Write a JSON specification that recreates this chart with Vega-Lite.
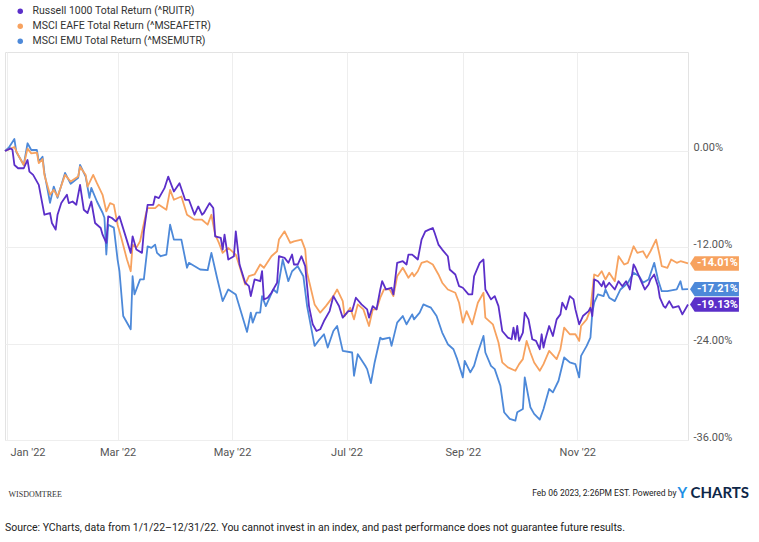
{
  "$schema": "https://vega.github.io/schema/vega-lite/v6.json",
  "width": 683,
  "height": 388,
  "autosize": {"type": "none"},
  "padding": {"left": 5, "top": 52, "right": 71, "bottom": 102},
  "background": "white",
  "config": {
    "view": {"stroke": "#e3e3e3"},
    "font": "Roboto",
    "axis": {"labelFont": "Roboto"}
  },
  "title": {
    "text": "Source: YCharts, data from 1/1/22\u201312/31/22. You cannot invest in an index, and past performance does not guarantee future results.",
    "orient": "bottom",
    "anchor": "start",
    "frame": "group",
    "offset": 23,
    "font": "Roboto",
    "fontSize": 10.5,
    "fontWeight": "normal",
    "color": "#222222"
  },
  "data": {
    "values": [
      {"series":"MSEMUTR","date":"2021-12-31","value":0},
      {"series":"MSEMUTR","date":"2022-01-02","value":0.41},
      {"series":"MSEMUTR","date":"2022-01-05","value":1.49},
      {"series":"MSEMUTR","date":"2022-01-06","value":-0.09},
      {"series":"MSEMUTR","date":"2022-01-10","value":-1.74},
      {"series":"MSEMUTR","date":"2022-01-12","value":0.96},
      {"series":"MSEMUTR","date":"2022-01-14","value":0.12},
      {"series":"MSEMUTR","date":"2022-01-17","value":0.12},
      {"series":"MSEMUTR","date":"2022-01-18","value":-1.33},
      {"series":"MSEMUTR","date":"2022-01-20","value":-0.71},
      {"series":"MSEMUTR","date":"2022-01-21","value":-2.73},
      {"series":"MSEMUTR","date":"2022-01-24","value":-6.45},
      {"series":"MSEMUTR","date":"2022-01-26","value":-4.43},
      {"series":"MSEMUTR","date":"2022-01-28","value":-5.83},
      {"series":"MSEMUTR","date":"2022-02-01","value":-2.73},
      {"series":"MSEMUTR","date":"2022-02-04","value":-4.09},
      {"series":"MSEMUTR","date":"2022-02-08","value":-3.35},
      {"series":"MSEMUTR","date":"2022-02-09","value":-1.74},
      {"series":"MSEMUTR","date":"2022-02-12","value":-3.19},
      {"series":"MSEMUTR","date":"2022-02-14","value":-5.83},
      {"series":"MSEMUTR","date":"2022-02-15","value":-4.59},
      {"series":"MSEMUTR","date":"2022-02-18","value":-6.29},
      {"series":"MSEMUTR","date":"2022-02-21","value":-7.69},
      {"series":"MSEMUTR","date":"2022-02-22","value":-8.31},
      {"series":"MSEMUTR","date":"2022-02-23","value":-12.90},
      {"series":"MSEMUTR","date":"2022-02-24","value":-9.18},
      {"series":"MSEMUTR","date":"2022-02-27","value":-9.55},
      {"series":"MSEMUTR","date":"2022-03-01","value":-13.52},
      {"series":"MSEMUTR","date":"2022-03-02","value":-14.98},
      {"series":"MSEMUTR","date":"2022-03-04","value":-20.56},
      {"series":"MSEMUTR","date":"2022-03-08","value":-22.21},
      {"series":"MSEMUTR","date":"2022-03-09","value":-15.60},
      {"series":"MSEMUTR","date":"2022-03-10","value":-17.87},
      {"series":"MSEMUTR","date":"2022-03-13","value":-16.00},
      {"series":"MSEMUTR","date":"2022-03-15","value":-16.00},
      {"series":"MSEMUTR","date":"2022-03-17","value":-11.87},
      {"series":"MSEMUTR","date":"2022-03-19","value":-12.07},
      {"series":"MSEMUTR","date":"2022-03-21","value":-11.66},
      {"series":"MSEMUTR","date":"2022-03-22","value":-12.69},
      {"series":"MSEMUTR","date":"2022-03-24","value":-13.11},
      {"series":"MSEMUTR","date":"2022-03-27","value":-12.90},
      {"series":"MSEMUTR","date":"2022-03-29","value":-9.18},
      {"series":"MSEMUTR","date":"2022-03-31","value":-11.04},
      {"series":"MSEMUTR","date":"2022-04-04","value":-11.04},
      {"series":"MSEMUTR","date":"2022-04-07","value":-14.55},
      {"series":"MSEMUTR","date":"2022-04-08","value":-13.93},
      {"series":"MSEMUTR","date":"2022-04-14","value":-14.76},
      {"series":"MSEMUTR","date":"2022-04-18","value":-14.85},
      {"series":"MSEMUTR","date":"2022-04-20","value":-12.69},
      {"series":"MSEMUTR","date":"2022-04-23","value":-15.79},
      {"series":"MSEMUTR","date":"2022-04-26","value":-18.70},
      {"series":"MSEMUTR","date":"2022-04-29","value":-17.25},
      {"series":"MSEMUTR","date":"2022-05-03","value":-17.87},
      {"series":"MSEMUTR","date":"2022-05-09","value":-22.54},
      {"series":"MSEMUTR","date":"2022-05-11","value":-20.14},
      {"series":"MSEMUTR","date":"2022-05-12","value":-21.38},
      {"series":"MSEMUTR","date":"2022-05-14","value":-20.14},
      {"series":"MSEMUTR","date":"2022-05-16","value":-20.14},
      {"series":"MSEMUTR","date":"2022-05-17","value":-18.08},
      {"series":"MSEMUTR","date":"2022-05-19","value":-19.32},
      {"series":"MSEMUTR","date":"2022-05-23","value":-17.25},
      {"series":"MSEMUTR","date":"2022-05-25","value":-17.66},
      {"series":"MSEMUTR","date":"2022-05-28","value":-13.52},
      {"series":"MSEMUTR","date":"2022-05-31","value":-16.22},
      {"series":"MSEMUTR","date":"2022-06-02","value":-14.98},
      {"series":"MSEMUTR","date":"2022-06-05","value":-14.35},
      {"series":"MSEMUTR","date":"2022-06-08","value":-15.60},
      {"series":"MSEMUTR","date":"2022-06-10","value":-19.32},
      {"series":"MSEMUTR","date":"2022-06-14","value":-24.28},
      {"series":"MSEMUTR","date":"2022-06-16","value":-23.66},
      {"series":"MSEMUTR","date":"2022-06-19","value":-22.83},
      {"series":"MSEMUTR","date":"2022-06-21","value":-24.48},
      {"series":"MSEMUTR","date":"2022-06-24","value":-22.42},
      {"series":"MSEMUTR","date":"2022-06-26","value":-21.80},
      {"series":"MSEMUTR","date":"2022-06-29","value":-24.90},
      {"series":"MSEMUTR","date":"2022-07-04","value":-25.10},
      {"series":"MSEMUTR","date":"2022-07-05","value":-28.00},
      {"series":"MSEMUTR","date":"2022-07-07","value":-25.31},
      {"series":"MSEMUTR","date":"2022-07-11","value":-26.76},
      {"series":"MSEMUTR","date":"2022-07-12","value":-27.17},
      {"series":"MSEMUTR","date":"2022-07-14","value":-28.91},
      {"series":"MSEMUTR","date":"2022-07-16","value":-26.34},
      {"series":"MSEMUTR","date":"2022-07-19","value":-23.24},
      {"series":"MSEMUTR","date":"2022-07-20","value":-23.45},
      {"series":"MSEMUTR","date":"2022-07-24","value":-23.24},
      {"series":"MSEMUTR","date":"2022-07-25","value":-24.28},
      {"series":"MSEMUTR","date":"2022-07-28","value":-21.38},
      {"series":"MSEMUTR","date":"2022-07-31","value":-20.56},
      {"series":"MSEMUTR","date":"2022-08-02","value":-21.59},
      {"series":"MSEMUTR","date":"2022-08-05","value":-20.35},
      {"series":"MSEMUTR","date":"2022-08-06","value":-20.97},
      {"series":"MSEMUTR","date":"2022-08-09","value":-20.14},
      {"series":"MSEMUTR","date":"2022-08-11","value":-19.11},
      {"series":"MSEMUTR","date":"2022-08-13","value":-19.32},
      {"series":"MSEMUTR","date":"2022-08-15","value":-19.52},
      {"series":"MSEMUTR","date":"2022-08-18","value":-20.56},
      {"series":"MSEMUTR","date":"2022-08-21","value":-22.62},
      {"series":"MSEMUTR","date":"2022-08-24","value":-24.07},
      {"series":"MSEMUTR","date":"2022-08-27","value":-24.69},
      {"series":"MSEMUTR","date":"2022-08-29","value":-25.93},
      {"series":"MSEMUTR","date":"2022-09-01","value":-28.20},
      {"series":"MSEMUTR","date":"2022-09-02","value":-26.14},
      {"series":"MSEMUTR","date":"2022-09-05","value":-27.58},
      {"series":"MSEMUTR","date":"2022-09-07","value":-26.76},
      {"series":"MSEMUTR","date":"2022-09-09","value":-25.10},
      {"series":"MSEMUTR","date":"2022-09-12","value":-23.04},
      {"series":"MSEMUTR","date":"2022-09-13","value":-25.10},
      {"series":"MSEMUTR","date":"2022-09-16","value":-26.76},
      {"series":"MSEMUTR","date":"2022-09-18","value":-27.17},
      {"series":"MSEMUTR","date":"2022-09-21","value":-29.24},
      {"series":"MSEMUTR","date":"2022-09-23","value":-32.54},
      {"series":"MSEMUTR","date":"2022-09-26","value":-33.37},
      {"series":"MSEMUTR","date":"2022-09-29","value":-33.59},
      {"series":"MSEMUTR","date":"2022-09-30","value":-32.54},
      {"series":"MSEMUTR","date":"2022-10-03","value":-32.13},
      {"series":"MSEMUTR","date":"2022-10-04","value":-28.20},
      {"series":"MSEMUTR","date":"2022-10-07","value":-31.92},
      {"series":"MSEMUTR","date":"2022-10-09","value":-32.75},
      {"series":"MSEMUTR","date":"2022-10-12","value":-33.46},
      {"series":"MSEMUTR","date":"2022-10-14","value":-32.13},
      {"series":"MSEMUTR","date":"2022-10-17","value":-29.65},
      {"series":"MSEMUTR","date":"2022-10-19","value":-30.06},
      {"series":"MSEMUTR","date":"2022-10-22","value":-28.62},
      {"series":"MSEMUTR","date":"2022-10-25","value":-25.72},
      {"series":"MSEMUTR","date":"2022-10-28","value":-26.34},
      {"series":"MSEMUTR","date":"2022-10-31","value":-26.55},
      {"series":"MSEMUTR","date":"2022-11-02","value":-28.20},
      {"series":"MSEMUTR","date":"2022-11-03","value":-25.52},
      {"series":"MSEMUTR","date":"2022-11-06","value":-24.28},
      {"series":"MSEMUTR","date":"2022-11-08","value":-23.24},
      {"series":"MSEMUTR","date":"2022-11-09","value":-20.14},
      {"series":"MSEMUTR","date":"2022-11-10","value":-18.90},
      {"series":"MSEMUTR","date":"2022-11-12","value":-17.87},
      {"series":"MSEMUTR","date":"2022-11-15","value":-18.08},
      {"series":"MSEMUTR","date":"2022-11-16","value":-17.25},
      {"series":"MSEMUTR","date":"2022-11-18","value":-18.28},
      {"series":"MSEMUTR","date":"2022-11-21","value":-18.70},
      {"series":"MSEMUTR","date":"2022-11-24","value":-17.25},
      {"series":"MSEMUTR","date":"2022-11-28","value":-16.41},
      {"series":"MSEMUTR","date":"2022-12-01","value":-15.17},
      {"series":"MSEMUTR","date":"2022-12-04","value":-15.60},
      {"series":"MSEMUTR","date":"2022-12-06","value":-16.41},
      {"series":"MSEMUTR","date":"2022-12-09","value":-16.00},
      {"series":"MSEMUTR","date":"2022-12-12","value":-13.93},
      {"series":"MSEMUTR","date":"2022-12-14","value":-16.00},
      {"series":"MSEMUTR","date":"2022-12-16","value":-17.46},
      {"series":"MSEMUTR","date":"2022-12-19","value":-17.46},
      {"series":"MSEMUTR","date":"2022-12-24","value":-17.25},
      {"series":"MSEMUTR","date":"2022-12-26","value":-16.22},
      {"series":"MSEMUTR","date":"2022-12-27","value":-17.25},
      {"series":"MSEMUTR","date":"2022-12-30","value":-17.21},

      {"series":"MSEAFETR","date":"2021-12-31","value":0},
      {"series":"MSEAFETR","date":"2022-01-02","value":0.2},
      {"series":"MSEAFETR","date":"2022-01-05","value":0.5},
      {"series":"MSEAFETR","date":"2022-01-07","value":-0.50},
      {"series":"MSEAFETR","date":"2022-01-10","value":-1.74},
      {"series":"MSEAFETR","date":"2022-01-12","value":0.3},
      {"series":"MSEAFETR","date":"2022-01-14","value":-0.3},
      {"series":"MSEAFETR","date":"2022-01-17","value":-0.2},
      {"series":"MSEAFETR","date":"2022-01-18","value":-1.5},
      {"series":"MSEAFETR","date":"2022-01-20","value":-1.0},
      {"series":"MSEAFETR","date":"2022-01-21","value":-3.0},
      {"series":"MSEAFETR","date":"2022-01-24","value":-5.46},
      {"series":"MSEAFETR","date":"2022-01-26","value":-4.84},
      {"series":"MSEAFETR","date":"2022-01-28","value":-5.67},
      {"series":"MSEAFETR","date":"2022-02-01","value":-2.98},
      {"series":"MSEAFETR","date":"2022-02-04","value":-3.81},
      {"series":"MSEAFETR","date":"2022-02-08","value":-3.19},
      {"series":"MSEAFETR","date":"2022-02-09","value":-1.95},
      {"series":"MSEAFETR","date":"2022-02-12","value":-2.98},
      {"series":"MSEAFETR","date":"2022-02-13","value":-4.43},
      {"series":"MSEAFETR","date":"2022-02-16","value":-2.98},
      {"series":"MSEAFETR","date":"2022-02-18","value":-4.01},
      {"series":"MSEAFETR","date":"2022-02-21","value":-5.46},
      {"series":"MSEAFETR","date":"2022-02-23","value":-7.53},
      {"series":"MSEAFETR","date":"2022-02-25","value":-6.49},
      {"series":"MSEAFETR","date":"2022-02-27","value":-6.70},
      {"series":"MSEAFETR","date":"2022-03-01","value":-9.18},
      {"series":"MSEAFETR","date":"2022-03-03","value":-10.83},
      {"series":"MSEAFETR","date":"2022-03-06","value":-13.52},
      {"series":"MSEAFETR","date":"2022-03-08","value":-14.98},
      {"series":"MSEAFETR","date":"2022-03-09","value":-11.66},
      {"series":"MSEAFETR","date":"2022-03-11","value":-12.07},
      {"series":"MSEAFETR","date":"2022-03-13","value":-11.25},
      {"series":"MSEAFETR","date":"2022-03-16","value":-7.94},
      {"series":"MSEAFETR","date":"2022-03-17","value":-7.11},
      {"series":"MSEAFETR","date":"2022-03-21","value":-7.11},
      {"series":"MSEAFETR","date":"2022-03-23","value":-6.70},
      {"series":"MSEAFETR","date":"2022-03-27","value":-7.32},
      {"series":"MSEAFETR","date":"2022-03-29","value":-4.84},
      {"series":"MSEAFETR","date":"2022-03-31","value":-6.08},
      {"series":"MSEAFETR","date":"2022-04-04","value":-5.67},
      {"series":"MSEAFETR","date":"2022-04-07","value":-7.94},
      {"series":"MSEAFETR","date":"2022-04-11","value":-8.56},
      {"series":"MSEAFETR","date":"2022-04-15","value":-8.56},
      {"series":"MSEAFETR","date":"2022-04-18","value":-9.18},
      {"series":"MSEAFETR","date":"2022-04-20","value":-7.94},
      {"series":"MSEAFETR","date":"2022-04-22","value":-10.42},
      {"series":"MSEAFETR","date":"2022-04-24","value":-11.45},
      {"series":"MSEAFETR","date":"2022-04-26","value":-12.69},
      {"series":"MSEAFETR","date":"2022-04-29","value":-12.07},
      {"series":"MSEAFETR","date":"2022-05-03","value":-12.90},
      {"series":"MSEAFETR","date":"2022-05-05","value":-14.35},
      {"series":"MSEAFETR","date":"2022-05-08","value":-16.63},
      {"series":"MSEAFETR","date":"2022-05-10","value":-15.60},
      {"series":"MSEAFETR","date":"2022-05-13","value":-15.38},
      {"series":"MSEAFETR","date":"2022-05-16","value":-14.14},
      {"series":"MSEAFETR","date":"2022-05-18","value":-14.55},
      {"series":"MSEAFETR","date":"2022-05-22","value":-13.11},
      {"series":"MSEAFETR","date":"2022-05-25","value":-12.49},
      {"series":"MSEAFETR","date":"2022-05-26","value":-11.04},
      {"series":"MSEAFETR","date":"2022-05-29","value":-10.01},
      {"series":"MSEAFETR","date":"2022-06-01","value":-11.45},
      {"series":"MSEAFETR","date":"2022-06-03","value":-11.25},
      {"series":"MSEAFETR","date":"2022-06-07","value":-11.04},
      {"series":"MSEAFETR","date":"2022-06-09","value":-12.28},
      {"series":"MSEAFETR","date":"2022-06-10","value":-15.17},
      {"series":"MSEAFETR","date":"2022-06-14","value":-19.11},
      {"series":"MSEAFETR","date":"2022-06-17","value":-20.14},
      {"series":"MSEAFETR","date":"2022-06-20","value":-19.32},
      {"series":"MSEAFETR","date":"2022-06-24","value":-18.08},
      {"series":"MSEAFETR","date":"2022-06-26","value":-17.25},
      {"series":"MSEAFETR","date":"2022-06-29","value":-18.70},
      {"series":"MSEAFETR","date":"2022-06-30","value":-20.56},
      {"series":"MSEAFETR","date":"2022-07-03","value":-19.52},
      {"series":"MSEAFETR","date":"2022-07-05","value":-20.97},
      {"series":"MSEAFETR","date":"2022-07-07","value":-19.11},
      {"series":"MSEAFETR","date":"2022-07-10","value":-19.73},
      {"series":"MSEAFETR","date":"2022-07-13","value":-21.80},
      {"series":"MSEAFETR","date":"2022-07-15","value":-19.73},
      {"series":"MSEAFETR","date":"2022-07-17","value":-19.73},
      {"series":"MSEAFETR","date":"2022-07-19","value":-18.28},
      {"series":"MSEAFETR","date":"2022-07-21","value":-17.25},
      {"series":"MSEAFETR","date":"2022-07-24","value":-17.25},
      {"series":"MSEAFETR","date":"2022-07-26","value":-18.08},
      {"series":"MSEAFETR","date":"2022-07-28","value":-15.60},
      {"series":"MSEAFETR","date":"2022-07-31","value":-14.55},
      {"series":"MSEAFETR","date":"2022-08-03","value":-15.79},
      {"series":"MSEAFETR","date":"2022-08-05","value":-15.17},
      {"series":"MSEAFETR","date":"2022-08-06","value":-15.60},
      {"series":"MSEAFETR","date":"2022-08-08","value":-14.98},
      {"series":"MSEAFETR","date":"2022-08-10","value":-13.93},
      {"series":"MSEAFETR","date":"2022-08-13","value":-13.73},
      {"series":"MSEAFETR","date":"2022-08-16","value":-14.14},
      {"series":"MSEAFETR","date":"2022-08-19","value":-15.38},
      {"series":"MSEAFETR","date":"2022-08-21","value":-16.41},
      {"series":"MSEAFETR","date":"2022-08-24","value":-17.25},
      {"series":"MSEAFETR","date":"2022-08-28","value":-17.66},
      {"series":"MSEAFETR","date":"2022-08-30","value":-18.90},
      {"series":"MSEAFETR","date":"2022-09-01","value":-21.38},
      {"series":"MSEAFETR","date":"2022-09-03","value":-19.94},
      {"series":"MSEAFETR","date":"2022-09-06","value":-21.59},
      {"series":"MSEAFETR","date":"2022-09-09","value":-18.90},
      {"series":"MSEAFETR","date":"2022-09-12","value":-17.66},
      {"series":"MSEAFETR","date":"2022-09-13","value":-20.76},
      {"series":"MSEAFETR","date":"2022-09-17","value":-21.59},
      {"series":"MSEAFETR","date":"2022-09-20","value":-23.86},
      {"series":"MSEAFETR","date":"2022-09-22","value":-26.34},
      {"series":"MSEAFETR","date":"2022-09-25","value":-26.96},
      {"series":"MSEAFETR","date":"2022-09-29","value":-27.38},
      {"series":"MSEAFETR","date":"2022-10-01","value":-26.55},
      {"series":"MSEAFETR","date":"2022-10-03","value":-25.93},
      {"series":"MSEAFETR","date":"2022-10-05","value":-23.66},
      {"series":"MSEAFETR","date":"2022-10-07","value":-25.10},
      {"series":"MSEAFETR","date":"2022-10-09","value":-26.34},
      {"series":"MSEAFETR","date":"2022-10-12","value":-27.38},
      {"series":"MSEAFETR","date":"2022-10-14","value":-26.55},
      {"series":"MSEAFETR","date":"2022-10-17","value":-24.90},
      {"series":"MSEAFETR","date":"2022-10-21","value":-25.93},
      {"series":"MSEAFETR","date":"2022-10-23","value":-24.69},
      {"series":"MSEAFETR","date":"2022-10-25","value":-22.00},
      {"series":"MSEAFETR","date":"2022-10-28","value":-22.83},
      {"series":"MSEAFETR","date":"2022-10-31","value":-22.83},
      {"series":"MSEAFETR","date":"2022-11-02","value":-23.66},
      {"series":"MSEAFETR","date":"2022-11-03","value":-21.80},
      {"series":"MSEAFETR","date":"2022-11-06","value":-20.97},
      {"series":"MSEAFETR","date":"2022-11-08","value":-19.73},
      {"series":"MSEAFETR","date":"2022-11-10","value":-15.38},
      {"series":"MSEAFETR","date":"2022-11-12","value":-15.60},
      {"series":"MSEAFETR","date":"2022-11-14","value":-14.98},
      {"series":"MSEAFETR","date":"2022-11-16","value":-16.00},
      {"series":"MSEAFETR","date":"2022-11-18","value":-15.17},
      {"series":"MSEAFETR","date":"2022-11-21","value":-16.22},
      {"series":"MSEAFETR","date":"2022-11-23","value":-13.11},
      {"series":"MSEAFETR","date":"2022-11-26","value":-14.14},
      {"series":"MSEAFETR","date":"2022-11-28","value":-13.93},
      {"series":"MSEAFETR","date":"2022-12-01","value":-11.87},
      {"series":"MSEAFETR","date":"2022-12-03","value":-12.69},
      {"series":"MSEAFETR","date":"2022-12-06","value":-12.49},
      {"series":"MSEAFETR","date":"2022-12-08","value":-13.31},
      {"series":"MSEAFETR","date":"2022-12-10","value":-12.49},
      {"series":"MSEAFETR","date":"2022-12-13","value":-11.04},
      {"series":"MSEAFETR","date":"2022-12-15","value":-13.11},
      {"series":"MSEAFETR","date":"2022-12-16","value":-14.35},
      {"series":"MSEAFETR","date":"2022-12-19","value":-14.55},
      {"series":"MSEAFETR","date":"2022-12-21","value":-13.52},
      {"series":"MSEAFETR","date":"2022-12-24","value":-13.93},
      {"series":"MSEAFETR","date":"2022-12-26","value":-13.73},
      {"series":"MSEAFETR","date":"2022-12-30","value":-14.01},

      {"series":"RUITR","date":"2021-12-31","value":0},
      {"series":"RUITR","date":"2022-01-03","value":0.33},
      {"series":"RUITR","date":"2022-01-04","value":0.12},
      {"series":"RUITR","date":"2022-01-05","value":-1.74},
      {"series":"RUITR","date":"2022-01-07","value":-2.15},
      {"series":"RUITR","date":"2022-01-10","value":-2.15},
      {"series":"RUITR","date":"2022-01-12","value":-1.12},
      {"series":"RUITR","date":"2022-01-13","value":-2.57},
      {"series":"RUITR","date":"2022-01-15","value":-2.98},
      {"series":"RUITR","date":"2022-01-18","value":-4.22},
      {"series":"RUITR","date":"2022-01-19","value":-5.46},
      {"series":"RUITR","date":"2022-01-21","value":-7.94},
      {"series":"RUITR","date":"2022-01-24","value":-7.73},
      {"series":"RUITR","date":"2022-01-25","value":-8.97},
      {"series":"RUITR","date":"2022-01-27","value":-9.80},
      {"series":"RUITR","date":"2022-01-28","value":-7.94},
      {"series":"RUITR","date":"2022-01-30","value":-6.49},
      {"series":"RUITR","date":"2022-02-02","value":-5.46},
      {"series":"RUITR","date":"2022-02-03","value":-6.49},
      {"series":"RUITR","date":"2022-02-05","value":-6.29},
      {"series":"RUITR","date":"2022-02-07","value":-6.70},
      {"series":"RUITR","date":"2022-02-09","value":-4.22},
      {"series":"RUITR","date":"2022-02-11","value":-7.32},
      {"series":"RUITR","date":"2022-02-13","value":-7.73},
      {"series":"RUITR","date":"2022-02-15","value":-6.29},
      {"series":"RUITR","date":"2022-02-17","value":-8.97},
      {"series":"RUITR","date":"2022-02-20","value":-9.59},
      {"series":"RUITR","date":"2022-02-21","value":-10.42},
      {"series":"RUITR","date":"2022-02-23","value":-11.45},
      {"series":"RUITR","date":"2022-02-24","value":-8.15},
      {"series":"RUITR","date":"2022-02-26","value":-8.35},
      {"series":"RUITR","date":"2022-02-28","value":-8.77},
      {"series":"RUITR","date":"2022-03-02","value":-8.15},
      {"series":"RUITR","date":"2022-03-05","value":-10.42},
      {"series":"RUITR","date":"2022-03-08","value":-12.69},
      {"series":"RUITR","date":"2022-03-09","value":-10.63},
      {"series":"RUITR","date":"2022-03-11","value":-12.28},
      {"series":"RUITR","date":"2022-03-14","value":-12.69},
      {"series":"RUITR","date":"2022-03-15","value":-10.01},
      {"series":"RUITR","date":"2022-03-17","value":-6.70},
      {"series":"RUITR","date":"2022-03-20","value":-6.70},
      {"series":"RUITR","date":"2022-03-21","value":-5.67},
      {"series":"RUITR","date":"2022-03-23","value":-5.87},
      {"series":"RUITR","date":"2022-03-26","value":-4.63},
      {"series":"RUITR","date":"2022-03-28","value":-3.19},
      {"series":"RUITR","date":"2022-03-31","value":-5.05},
      {"series":"RUITR","date":"2022-04-03","value":-4.01},
      {"series":"RUITR","date":"2022-04-06","value":-6.08},
      {"series":"RUITR","date":"2022-04-08","value":-6.08},
      {"series":"RUITR","date":"2022-04-11","value":-7.94},
      {"series":"RUITR","date":"2022-04-13","value":-6.91},
      {"series":"RUITR","date":"2022-04-15","value":-7.94},
      {"series":"RUITR","date":"2022-04-16","value":-7.73},
      {"series":"RUITR","date":"2022-04-19","value":-6.49},
      {"series":"RUITR","date":"2022-04-21","value":-7.11},
      {"series":"RUITR","date":"2022-04-22","value":-10.63},
      {"series":"RUITR","date":"2022-04-25","value":-10.83},
      {"series":"RUITR","date":"2022-04-26","value":-12.28},
      {"series":"RUITR","date":"2022-04-27","value":-10.42},
      {"series":"RUITR","date":"2022-04-29","value":-13.52},
      {"series":"RUITR","date":"2022-05-02","value":-13.11},
      {"series":"RUITR","date":"2022-05-03","value":-10.01},
      {"series":"RUITR","date":"2022-05-05","value":-14.14},
      {"series":"RUITR","date":"2022-05-08","value":-16.41},
      {"series":"RUITR","date":"2022-05-10","value":-16.84},
      {"series":"RUITR","date":"2022-05-11","value":-18.08},
      {"series":"RUITR","date":"2022-05-13","value":-16.00},
      {"series":"RUITR","date":"2022-05-16","value":-16.22},
      {"series":"RUITR","date":"2022-05-17","value":-14.98},
      {"series":"RUITR","date":"2022-05-18","value":-18.49},
      {"series":"RUITR","date":"2022-05-20","value":-18.28},
      {"series":"RUITR","date":"2022-05-22","value":-17.66},
      {"series":"RUITR","date":"2022-05-25","value":-16.41},
      {"series":"RUITR","date":"2022-05-26","value":-13.11},
      {"series":"RUITR","date":"2022-05-29","value":-13.31},
      {"series":"RUITR","date":"2022-05-31","value":-13.93},
      {"series":"RUITR","date":"2022-06-02","value":-12.90},
      {"series":"RUITR","date":"2022-06-03","value":-14.14},
      {"series":"RUITR","date":"2022-06-05","value":-14.14},
      {"series":"RUITR","date":"2022-06-07","value":-13.11},
      {"series":"RUITR","date":"2022-06-09","value":-14.35},
      {"series":"RUITR","date":"2022-06-11","value":-19.32},
      {"series":"RUITR","date":"2022-06-13","value":-21.59},
      {"series":"RUITR","date":"2022-06-15","value":-22.42},
      {"series":"RUITR","date":"2022-06-17","value":-22.21},
      {"series":"RUITR","date":"2022-06-19","value":-21.18},
      {"series":"RUITR","date":"2022-06-22","value":-19.94},
      {"series":"RUITR","date":"2022-06-24","value":-18.08},
      {"series":"RUITR","date":"2022-06-27","value":-19.30},
      {"series":"RUITR","date":"2022-06-29","value":-20.76},
      {"series":"RUITR","date":"2022-07-02","value":-19.94},
      {"series":"RUITR","date":"2022-07-04","value":-19.94},
      {"series":"RUITR","date":"2022-07-06","value":-18.28},
      {"series":"RUITR","date":"2022-07-09","value":-19.11},
      {"series":"RUITR","date":"2022-07-12","value":-19.73},
      {"series":"RUITR","date":"2022-07-13","value":-20.76},
      {"series":"RUITR","date":"2022-07-15","value":-19.32},
      {"series":"RUITR","date":"2022-07-17","value":-19.73},
      {"series":"RUITR","date":"2022-07-19","value":-17.25},
      {"series":"RUITR","date":"2022-07-20","value":-16.22},
      {"series":"RUITR","date":"2022-07-22","value":-17.25},
      {"series":"RUITR","date":"2022-07-25","value":-17.04},
      {"series":"RUITR","date":"2022-07-26","value":-17.87},
      {"series":"RUITR","date":"2022-07-28","value":-13.93},
      {"series":"RUITR","date":"2022-07-31","value":-13.73},
      {"series":"RUITR","date":"2022-08-02","value":-14.14},
      {"series":"RUITR","date":"2022-08-03","value":-12.90},
      {"series":"RUITR","date":"2022-08-05","value":-12.90},
      {"series":"RUITR","date":"2022-08-08","value":-13.52},
      {"series":"RUITR","date":"2022-08-10","value":-11.04},
      {"series":"RUITR","date":"2022-08-12","value":-10.01},
      {"series":"RUITR","date":"2022-08-14","value":-9.80},
      {"series":"RUITR","date":"2022-08-16","value":-9.59},
      {"series":"RUITR","date":"2022-08-17","value":-10.21},
      {"series":"RUITR","date":"2022-08-19","value":-11.66},
      {"series":"RUITR","date":"2022-08-21","value":-12.28},
      {"series":"RUITR","date":"2022-08-24","value":-13.11},
      {"series":"RUITR","date":"2022-08-25","value":-14.76},
      {"series":"RUITR","date":"2022-08-28","value":-15.38},
      {"series":"RUITR","date":"2022-08-30","value":-16.84},
      {"series":"RUITR","date":"2022-09-01","value":-17.04},
      {"series":"RUITR","date":"2022-09-04","value":-17.87},
      {"series":"RUITR","date":"2022-09-06","value":-17.87},
      {"series":"RUITR","date":"2022-09-07","value":-15.60},
      {"series":"RUITR","date":"2022-09-10","value":-13.93},
      {"series":"RUITR","date":"2022-09-12","value":-13.52},
      {"series":"RUITR","date":"2022-09-13","value":-17.25},
      {"series":"RUITR","date":"2022-09-16","value":-18.49},
      {"series":"RUITR","date":"2022-09-18","value":-18.08},
      {"series":"RUITR","date":"2022-09-20","value":-19.32},
      {"series":"RUITR","date":"2022-09-22","value":-22.42},
      {"series":"RUITR","date":"2022-09-25","value":-23.24},
      {"series":"RUITR","date":"2022-09-27","value":-23.45},
      {"series":"RUITR","date":"2022-09-28","value":-22.00},
      {"series":"RUITR","date":"2022-09-29","value":-23.45},
      {"series":"RUITR","date":"2022-09-30","value":-21.80},
      {"series":"RUITR","date":"2022-10-01","value":-23.66},
      {"series":"RUITR","date":"2022-10-03","value":-22.62},
      {"series":"RUITR","date":"2022-10-04","value":-20.14},
      {"series":"RUITR","date":"2022-10-06","value":-20.97},
      {"series":"RUITR","date":"2022-10-08","value":-23.45},
      {"series":"RUITR","date":"2022-10-10","value":-23.66},
      {"series":"RUITR","date":"2022-10-12","value":-24.69},
      {"series":"RUITR","date":"2022-10-13","value":-22.83},
      {"series":"RUITR","date":"2022-10-14","value":-24.48},
      {"series":"RUITR","date":"2022-10-15","value":-23.45},
      {"series":"RUITR","date":"2022-10-17","value":-21.80},
      {"series":"RUITR","date":"2022-10-19","value":-23.04},
      {"series":"RUITR","date":"2022-10-21","value":-20.97},
      {"series":"RUITR","date":"2022-10-23","value":-20.35},
      {"series":"RUITR","date":"2022-10-24","value":-18.90},
      {"series":"RUITR","date":"2022-10-26","value":-19.73},
      {"series":"RUITR","date":"2022-10-28","value":-18.08},
      {"series":"RUITR","date":"2022-10-30","value":-18.49},
      {"series":"RUITR","date":"2022-10-31","value":-19.73},
      {"series":"RUITR","date":"2022-11-02","value":-21.59},
      {"series":"RUITR","date":"2022-11-04","value":-20.56},
      {"series":"RUITR","date":"2022-11-07","value":-19.94},
      {"series":"RUITR","date":"2022-11-08","value":-19.52},
      {"series":"RUITR","date":"2022-11-09","value":-20.56},
      {"series":"RUITR","date":"2022-11-10","value":-16.00},
      {"series":"RUITR","date":"2022-11-12","value":-16.22},
      {"series":"RUITR","date":"2022-11-14","value":-16.84},
      {"series":"RUITR","date":"2022-11-15","value":-16.22},
      {"series":"RUITR","date":"2022-11-16","value":-17.04},
      {"series":"RUITR","date":"2022-11-18","value":-16.41},
      {"series":"RUITR","date":"2022-11-21","value":-17.25},
      {"series":"RUITR","date":"2022-11-23","value":-16.22},
      {"series":"RUITR","date":"2022-11-25","value":-16.84},
      {"series":"RUITR","date":"2022-11-27","value":-16.22},
      {"series":"RUITR","date":"2022-11-29","value":-17.25},
      {"series":"RUITR","date":"2022-12-01","value":-14.14},
      {"series":"RUITR","date":"2022-12-02","value":-14.55},
      {"series":"RUITR","date":"2022-12-05","value":-16.22},
      {"series":"RUITR","date":"2022-12-07","value":-17.25},
      {"series":"RUITR","date":"2022-12-09","value":-16.63},
      {"series":"RUITR","date":"2022-12-10","value":-16.00},
      {"series":"RUITR","date":"2022-12-12","value":-15.38},
      {"series":"RUITR","date":"2022-12-14","value":-16.84},
      {"series":"RUITR","date":"2022-12-15","value":-18.28},
      {"series":"RUITR","date":"2022-12-17","value":-19.32},
      {"series":"RUITR","date":"2022-12-18","value":-19.52},
      {"series":"RUITR","date":"2022-12-20","value":-18.70},
      {"series":"RUITR","date":"2022-12-22","value":-19.52},
      {"series":"RUITR","date":"2022-12-25","value":-19.32},
      {"series":"RUITR","date":"2022-12-27","value":-20.35},
      {"series":"RUITR","date":"2022-12-30","value":-19.13}
    ]
  },
  "layer": [
    {
      "mark": {"type": "line", "strokeWidth": 1.8, "strokeJoin": "round"},
      "encoding": {
        "x": {
          "field": "date",
          "type": "temporal",
          "scale": {"type": "utc", "domain": [{"year": 2021, "month": 12, "date": 31, "utc": true}, {"year": 2022, "month": 12, "date": 30, "utc": true}]},
          "axis": {
            "orient": "bottom",
            "values": [
              {"year": 2022, "month": 1, "date": 1, "utc": true},
              {"year": 2022, "month": 3, "date": 1, "utc": true},
              {"year": 2022, "month": 5, "date": 1, "utc": true},
              {"year": 2022, "month": 7, "date": 1, "utc": true},
              {"year": 2022, "month": 9, "date": 1, "utc": true},
              {"year": 2022, "month": 11, "date": 1, "utc": true}
            ],
            "labelExpr": "utcFormat(datum.value, \"%b '%y\")",
            "grid": true,
            "gridColor": "#eeeeee",
            "ticks": false,
            "tickSize": 0,
            "domain": false,
            "labelColor": "#555555",
            "labelFontSize": 11,
            "labelPadding": 6,
            "labelBaseline": "top",
            "labelFlush": 3,
            "labelFlushOffset": -3,
            "title": "Feb 06 2023, 2:26PM EST. Powered by",
            "titleX": 671,
            "titleY": 55,
            "titleAlign": "right",
            "titleAnchor": null,
            "titleBaseline": "alphabetic",
            "titleFont": "Roboto",
            "titleFontSize": 8.5,
            "titleFontWeight": "normal",
            "titleColor": "#222222"
          }
        },
        "y": {
          "field": "value",
          "type": "quantitative",
          "scale": {"domain": [-36, 12.33], "nice": false, "zero": false},
          "axis": {
            "orient": "right",
            "values": [0, -12, -24, -36],
            "labelExpr": "replace(format(datum.value, '.2f'), '\u2212', '-') + '%'",
            "grid": true,
            "gridColor": "#eeeeee",
            "ticks": false,
            "tickSize": 0,
            "domain": false,
            "labelPadding": 5,
            "labelBaseline": "alphabetic",
            "labelColor": "#555555",
            "labelFontSize": 11,
            "title": "CHARTS",
            "titleAngle": 0,
            "titleX": 2,
            "titleY": 445,
            "titleAlign": "left",
            "titleAnchor": null,
            "titleBaseline": "alphabetic",
            "titleFont": "Lato, Roboto",
            "titleFontSize": 15,
            "titleFontWeight": "bold",
            "titleColor": "#0e2748"
          }
        },
        "color": {
          "field": "series",
          "type": "nominal",
          "scale": {"domain": ["RUITR", "MSEAFETR", "MSEMUTR"], "range": ["#5b2fc9", "#f7a25f", "#4d89d9"]},
          "legend": {
            "orient": "none",
            "legendX": 10,
            "legendY": -46,
            "title": null,
            "direction": "vertical",
            "padding": 0,
            "symbolType": "circle",
            "symbolSize": 30,
            "symbolStrokeWidth": 0,
            "labelFontSize": 10.5,
            "labelColor": "#333333",
            "labelFont": "Roboto",
            "labelLimit": 400,
            "labelOffset": 7,
            "rowPadding": 4,
            "labelExpr": "{'RUITR': 'Russell 1000 Total Return (^RUITR)', 'MSEAFETR': 'MSCI EAFE Total Return (^MSEAFETR)', 'MSEMUTR': 'MSCI EMU Total Return (^MSEMUTR)'}[datum.label]",
            "encode": {"symbols": {"update": {"fill": {"scale": "color", "field": "value"}, "strokeWidth": {"value": 0}}}}
          }
        }
      }
    },
    {
      "transform": [{"filter": "time(datum.date) == utc(2022, 11, 30)"}],
      "mark": {"type": "point", "filled": true, "opacity": 1, "shape": "M0,0L0.65,-1L6.8,-1L6.8,1L0.65,1Z", "size": 207, "xOffset": 2, "strokeWidth": 0},
      "encoding": {
        "x": {
          "field": "date",
          "type": "temporal",
          "scale": {"type": "utc", "domain": [{"year": 2021, "month": 12, "date": 31, "utc": true}, {"year": 2022, "month": 12, "date": 30, "utc": true}]},
          "axis": {
            "orient": "top",
            "labels": false,
            "ticks": false,
            "domain": false,
            "grid": false,
            "title": "Y",
            "titleX": 672,
            "titleY": 445,
            "titleAlign": "left",
            "titleAnchor": null,
            "titleBaseline": "alphabetic",
            "titleFont": "Lato, Roboto",
            "titleFontSize": 15,
            "titleFontWeight": "bold",
            "titleColor": "#1e8fe6"
          }
        },
        "y": {"field": "value", "type": "quantitative", "scale": {"domain": [-36, 12.33], "nice": false, "zero": false}, "axis": null},
        "color": {"field": "series", "type": "nominal", "legend": null}
      }
    },
    {
      "transform": [
        {"filter": "time(datum.date) == utc(2022, 11, 30)"},
        {"calculate": "replace(format(datum.value, '.2f'), '\u2212', '-') + '%'", "as": "label"}
      ],
      "mark": {"type": "text", "align": "left", "baseline": "middle", "dx": 9, "fill": "white", "font": "Roboto", "fontWeight": "bold", "fontSize": 11},
      "encoding": {
        "x": {"field": "date", "type": "temporal", "scale": {"type": "utc", "domain": [{"year": 2021, "month": 12, "date": 31, "utc": true}, {"year": 2022, "month": 12, "date": 30, "utc": true}]}, "axis": null},
        "y": {
          "field": "value",
          "type": "quantitative",
          "scale": {"domain": [-36, 12.33], "nice": false, "zero": false},
          "axis": {
            "orient": "left",
            "labels": false,
            "ticks": false,
            "domain": false,
            "grid": false,
            "title": "WISDOMTREE",
            "titleAngle": 0,
            "titleX": 3,
            "titleY": 444,
            "titleAlign": "left",
            "titleAnchor": null,
            "titleBaseline": "alphabetic",
            "titleFont": "Liberation Serif, DejaVu Serif, serif",
            "titleFontSize": 8,
            "titleFontWeight": "normal",
            "titleColor": "#333333"
          }
        },
        "text": {"field": "label"}
      }
    }
  ]
}
